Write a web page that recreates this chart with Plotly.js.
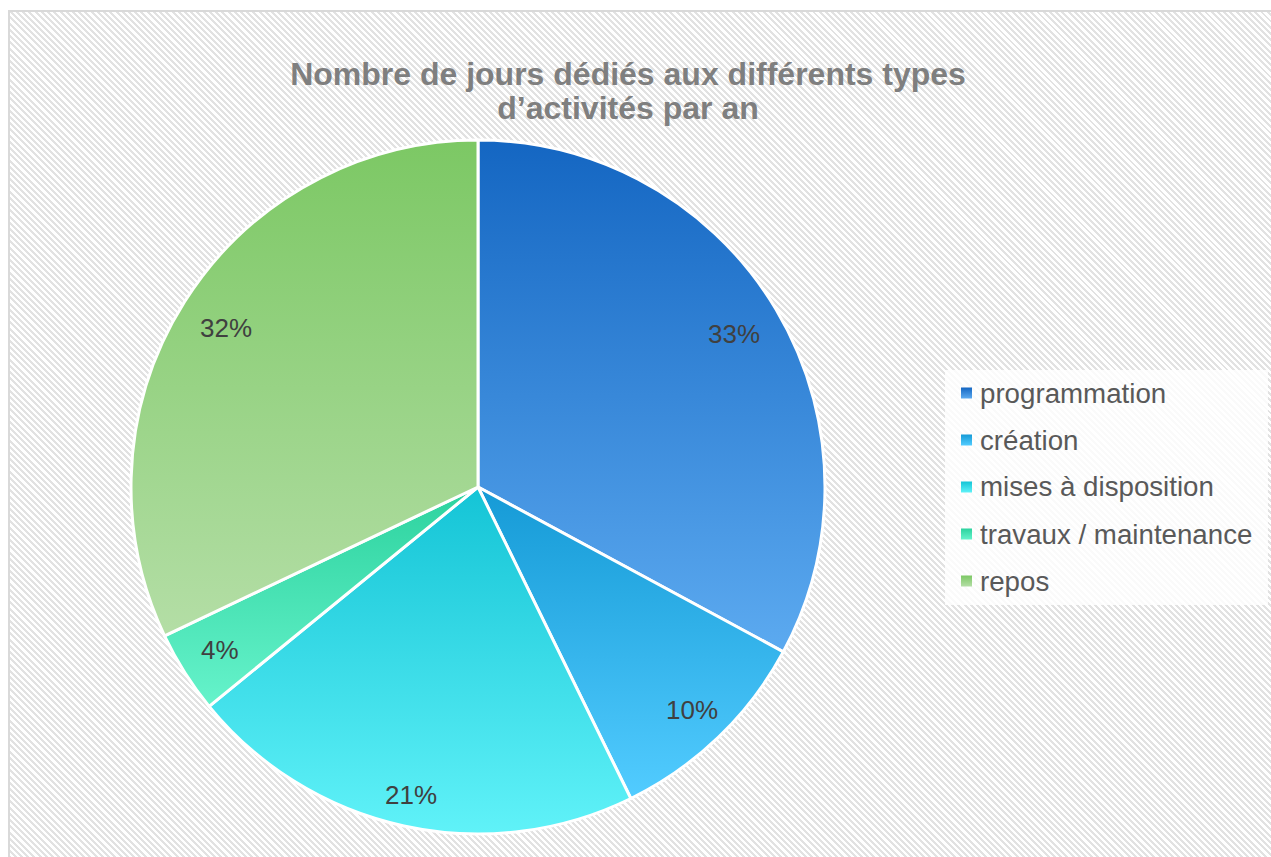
<!DOCTYPE html>
<html><head><meta charset="utf-8">
<script src="https://cdn.plot.ly/plotly-3.0.1.min.js"></script>
<style>
html,body{margin:0;padding:0;width:1271px;height:857px;overflow:hidden;background:#fff;}
#frame{position:absolute;left:8px;top:10px;width:1300px;height:900px;border:2px solid #d9d9d9;
background:repeating-linear-gradient(45deg,#ffffff 0px,#ffffff 2.3px,#e2e2e2 2.3px,#e2e2e2 4.4px);}
#chart{position:absolute;left:0;top:0;width:1271px;height:857px;}
</style></head><body>
<div id="frame"></div>
<svg id="gdefs" width="0" height="0" style="position:absolute;left:0;top:0"><defs id="gd"></defs></svg>
<div id="chart"></div>
<script>
// ---- data ----
const labels = ['programmation', 'création', 'mises à disposition', 'travaux / maintenance', 'repos'];
const days = [120, 36, 78, 14, 117];
const titleLine1 = 'Nombre de jours dédiés aux différents types';
const titleLine2 = 'd’activités par an';

// ---- style ----
const topColors = ['#1466c2', '#159ad6', '#14c4d6', '#2cd29e', '#7cc864'];
const bottomColors = ['#5caaf0', '#52ccff', '#60f2f8', '#66f3cb', '#b4dea6'];
const midColors = ['#3a88da', '#33b3eb', '#3adbe7', '#48e2b4', '#98d385'];
const labelRadius = [0.86, 0.89, 0.91, 0.88, 0.86];
const FONT = 'Liberation Sans, Arial, sans-serif';
const W = 1271, H = 857;
const cx = 478, cy = 487, R = 347;

// gradients
const defs = document.getElementById('gd');
const NS = 'http://www.w3.org/2000/svg';
topColors.forEach((c, i) => {
  const g = document.createElementNS(NS, 'linearGradient');
  g.setAttribute('id', 'g' + i);
  g.setAttribute('x1', '0'); g.setAttribute('y1', '0');
  g.setAttribute('x2', '0'); g.setAttribute('y2', '1');
  const s1 = document.createElementNS(NS, 'stop');
  s1.setAttribute('offset', '0'); s1.setAttribute('stop-color', c);
  const s2 = document.createElementNS(NS, 'stop');
  s2.setAttribute('offset', '1'); s2.setAttribute('stop-color', bottomColors[i]);
  g.appendChild(s1); g.appendChild(s2);
  defs.appendChild(g);
});

const domX = [(cx - R) / W, (cx + R) / W];
const domY = [(H - cy - R) / H, (H - cy + R) / H];

const data = [{
  type: 'pie',
  labels: labels,
  values: days,
  sort: false,
  direction: 'clockwise',
  rotation: 0,
  textinfo: 'none',
  hoverinfo: 'skip',
  showlegend: false,
  marker: {colors: midColors, line: {color: '#ffffff', width: 3}},
  domain: {x: domX, y: domY}
}];

// percentage labels computed from values
const total = days.reduce((a, b) => a + b, 0);
const annotations = [];
let cum = 0;
const pcx = (domX[0] + domX[1]) / 2, pcy = (domY[0] + domY[1]) / 2;
days.forEach((v, i) => {
  const mid = (cum + v / 2) / total * 2 * Math.PI;
  cum += v;
  const rr = labelRadius[i];
  annotations.push({
    xref: 'paper', yref: 'paper',
    x: pcx + rr * R * Math.sin(mid) / W,
    y: pcy + rr * R * Math.cos(mid) / H,
    xanchor: 'center', yanchor: 'middle', showarrow: false,
    text: Math.round(v / total * 100) + '%',
    font: {family: FONT, size: 26, color: '#404040'}
  });
});

// manual legend
const shapes = [{
  type: 'rect', xref: 'paper', yref: 'paper', layer: 'above',
  x0: 945 / W, x1: 1268 / W, y0: 1 - 605 / H, y1: 1 - 370 / H,
  fillcolor: 'rgba(255,255,255,0.82)', line: {width: 0}
}];
const legTop = 393, legStep = 47;
labels.forEach((lab, i) => {
  const yc = legTop + legStep * i;
  shapes.push({
    type: 'rect', xref: 'paper', yref: 'paper', layer: 'above',
    x0: 961 / W, x1: 972 / W, y0: 1 - (yc + 5.5) / H, y1: 1 - (yc - 5.5) / H,
    fillcolor: midColors[i], line: {width: 0}
  });
  annotations.push({
    xref: 'paper', yref: 'paper', x: 978 / W, y: 1 - yc / H,
    xanchor: 'left', yanchor: 'middle', showarrow: false,
    text: lab, font: {family: FONT, size: 27.7, color: '#595959'}
  });
});

const layout = {
  width: W, height: H,
  margin: {l: 0, r: 0, t: 0, b: 0},
  paper_bgcolor: 'rgba(0,0,0,0)',
  plot_bgcolor: 'rgba(0,0,0,0)',
  showlegend: false,
  title: {
    text: '<b><span style="font-size:32px">' + titleLine1 + '</span></b><br><b><span style="font-size:32px">' + titleLine2 + '</span></b>',
    font: {family: FONT, size: 26.5, color: '#7f7f7f'},
    x: 628 / W, xanchor: 'center', xref: 'paper',
    y: 1 - 85 / H, yanchor: 'top', yref: 'paper'
  },
  annotations: annotations,
  shapes: shapes
};

Plotly.newPlot('chart', data, layout, {staticPlot: true, displayModeBar: false}).then(gd => {
  gd.querySelectorAll('.pielayer .slice path.surface').forEach((p, i) => {
    p.style.fill = 'url(#g' + i + ')';
  });
  labels.forEach((lab, i) => {
    const p = gd.querySelector('.shapelayer path[data-index="' + (i + 1) + '"]');
    if (p) p.style.fill = 'url(#g' + i + ')';
  });
});
</script>
</body></html>
